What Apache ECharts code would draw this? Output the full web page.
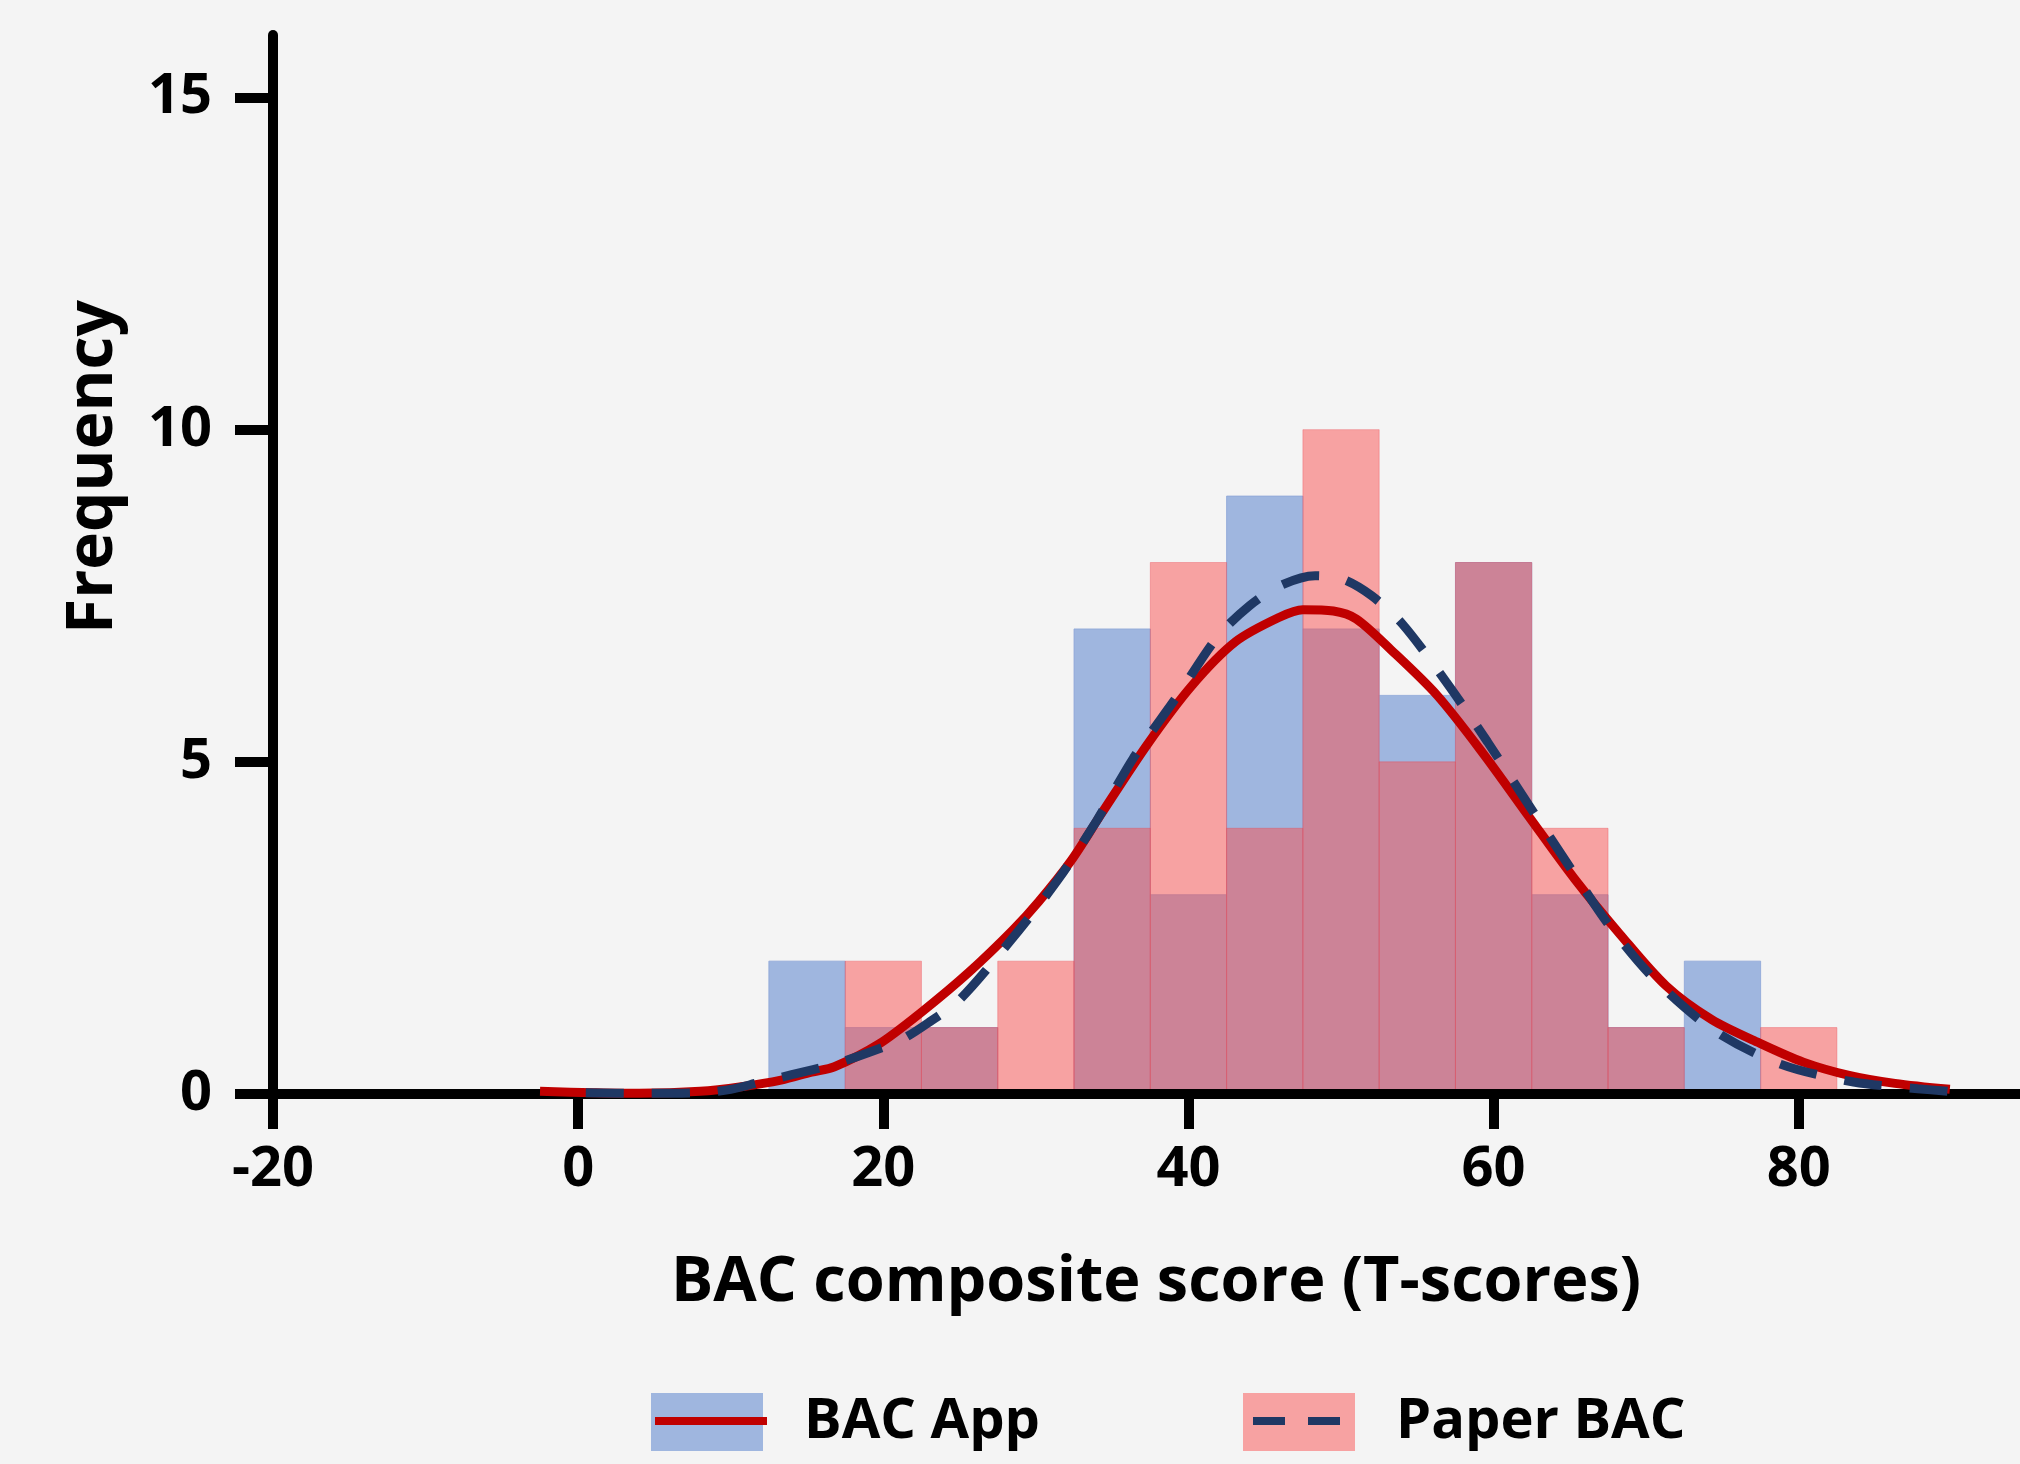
<!DOCTYPE html>
<html>
<head>
<meta charset="utf-8">
<script src="https://cdn.jsdelivr.net/npm/echarts@6/dist/echarts.min.js"></script>
<style>
html, body { margin: 0; padding: 0; background: #f4f4f4; }
#chart { width: 2020px; height: 1464px; }
</style>
</head>
<body>
<div id="chart"></div>
<script>
// ---- Data ----
const binCenters = [15, 20, 25, 30, 35, 40, 45, 50, 55, 60, 65, 70, 75, 80];
const binWidth = 5;
const appCounts   = [2, 1, 1, 0, 7, 3, 9, 7, 6, 8, 3, 1, 2, 0];
const paperCounts = [0, 2, 1, 2, 4, 8, 4, 10, 5, 8, 4, 1, 0, 1];

const appCurveX = [-2.5, 1, 4, 8, 10.7, 13.3, 15.3, 16.8, 19.7, 22.6, 25.6, 28.5, 30.2, 32.3, 34.3, 37.3, 40.2, 43.1, 46.0, 47.5, 49.5, 51.0, 53.3, 56.3, 59.3, 62.3, 65.3, 68.3, 71.3, 74.3, 77.3, 80.3, 83.3, 86.3, 89.9];
const appCurveY = [0.04, 0.02, 0.01, 0.04, 0.11, 0.21, 0.33, 0.41, 0.75, 1.25, 1.83, 2.47, 2.9, 3.51, 4.22, 5.26, 6.14, 6.81, 7.18, 7.29, 7.27, 7.15, 6.68, 6.0, 5.13, 4.18, 3.24, 2.4, 1.63, 1.12, 0.78, 0.48, 0.28, 0.16, 0.07];

const paperCurveX = [0.5, 4, 8, 10, 11.8, 14, 16.8, 19, 21.2, 23, 25.0, 28.2, 31.4, 34.0, 36.4, 39.3, 41.9, 44, 46, 48.3, 50.1, 52, 54.0, 56.9, 59.6, 62.3, 65.3, 67.7, 70.7, 74.5, 78.8, 83.6, 87.8, 89.8];
const paperCurveY = [0.02, 0.01, 0.02, 0.07, 0.17, 0.29, 0.45, 0.62, 0.82, 1.08, 1.42, 2.27, 3.21, 4.12, 5.06, 6.0, 6.88, 7.35, 7.65, 7.8, 7.75, 7.5, 7.08, 6.2, 5.3, 4.35, 3.31, 2.5, 1.69, 0.95, 0.45, 0.18, 0.08, 0.04];

const xTicks = [-20, 0, 20, 40, 60, 80];
const yTicks = [0, 5, 10, 15];

const seriesNames = ['BAC App', 'Paper BAC'];
const xTitle = 'BAC composite score (T-scores)';
const yTitle = 'Frequency';

// ---- Styling ----
const FONT = '"Open Sans", "Noto Sans", sans-serif';
const BLUE = '#9fb6df';
const PINK = 'rgba(249, 79, 79, 0.5)';
const RED = '#c00000';
const NAVY = '#1f3864';

function histData(counts) {
  return binCenters.map((c, i) => [c - binWidth / 2, c + binWidth / 2, counts[i]]);
}
function curveData(xs, ys) {
  return xs.map((x, i) => [x, ys[i]]);
}
function histRender(fill, stroke) {
  return function (params, api) {
    const x0 = api.value(0), x1 = api.value(1), v = api.value(2);
    if (!v) return null;
    const pTop = api.coord([x0, v]);
    const pBot = api.coord([x1, 0]);
    return {
      type: 'rect',
      shape: { x: pTop[0], y: pTop[1], width: pBot[0] - pTop[0], height: pBot[1] - pTop[1] },
      style: { fill: fill, stroke: stroke, lineWidth: 1 }
    };
  };
}

// legend spacing
const legendFontSize = 56;
const legendIconW = 112, legendIconH = 58, legendTextPad = 36;
const mctx = document.createElement('canvas').getContext('2d');
mctx.font = 'bold ' + legendFontSize + 'px ' + FONT;
const firstTextW = mctx.measureText(seriesNames[0]).width;
const legendGap = (1243 - 651) - (legendIconW + 5 + legendTextPad + firstTextW);

const legendCommon = {
  orient: 'horizontal',
  left: 651,
  top: 1393,
  itemWidth: legendIconW,
  itemHeight: legendIconH,
  itemGap: legendGap,
  selectedMode: false,
  padding: 0
};

const chart = echarts.init(document.getElementById('chart'), null, { renderer: 'canvas' });
chart.setOption({
  backgroundColor: '#f4f4f4',
  animation: false,
  textStyle: { fontFamily: FONT },
  grid: { left: 273, right: 0, top: 35, bottom: 370, containLabel: false },
  xAxis: {
    type: 'value', min: -20, max: 94.5, z: 4,
    splitLine: { show: false },
    axisLine: { onZero: false, lineStyle: { color: '#000', width: 10 } },
    axisTick: { customValues: xTicks, length: 35, lineStyle: { color: '#000', width: 10 } },
    axisLabel: { customValues: xTicks, color: '#000', fontSize: 56, fontWeight: 'bold', fontFamily: FONT, margin: 48 }
  },
  yAxis: {
    type: 'value', min: 0, max: 15.94, z: 4,
    splitLine: { show: false },
    axisLine: { show: true, onZero: false, lineStyle: { color: '#000', width: 10 } },
    axisTick: { show: true, customValues: yTicks, length: 38, lineStyle: { color: '#000', width: 10 } },
    axisLabel: { customValues: yTicks, color: '#000', fontSize: 56, fontWeight: 'bold', fontFamily: FONT, margin: 61 }
  },
  legend: [
    Object.assign({}, legendCommon, {
      data: seriesNames.map(n => ({ name: n, icon: 'rect' })),
      textStyle: { color: '#000', fontSize: legendFontSize, fontWeight: 'bold', fontFamily: FONT, padding: [0, 0, 0, legendTextPad] }
    }),
    Object.assign({}, legendCommon, {
      data: [
        { name: seriesNames[0] + ' fit', lineStyle: { width: 8 } },
        { name: seriesNames[1] + ' fit', lineStyle: { width: 8, type: [32, 23], dashOffset: -2 } }
      ],
      formatter: function (name) { return name.replace(' fit', ''); },
      itemStyle: { color: 'rgba(0,0,0,0)', borderColor: 'rgba(0,0,0,0)', borderWidth: 0 },
      textStyle: { color: 'rgba(0,0,0,0)', fontSize: legendFontSize, fontWeight: 'bold', fontFamily: FONT, padding: [0, 0, 0, legendTextPad] }
    })
  ],
  graphic: [
    {
      type: 'text', x: 94, y: 467, rotation: Math.PI / 2,
      style: { text: yTitle, fill: '#000', font: 'bold 64px ' + FONT, align: 'center', verticalAlign: 'middle' }
    },
    {
      type: 'text', x: 1156, y: 1283,
      style: { text: xTitle, fill: '#000', font: 'bold 63px ' + FONT, align: 'center', verticalAlign: 'middle' }
    }
  ],
  series: [
    {
      name: seriesNames[0], type: 'custom', renderItem: histRender(BLUE, 'rgba(140,165,215,0.8)'),
      itemStyle: { color: BLUE },
      encode: { x: [0, 1], y: 2 }, data: histData(appCounts), z: 1, silent: true
    },
    {
      name: seriesNames[1], type: 'custom', renderItem: histRender(PINK, 'rgba(235,70,80,0.35)'),
      itemStyle: { color: PINK },
      encode: { x: [0, 1], y: 2 }, data: histData(paperCounts), z: 2, silent: true
    },
    {
      name: seriesNames[0] + ' fit', type: 'line', smooth: 0.3, symbol: 'none', showSymbol: false,
      lineStyle: { color: RED, width: 9 }, itemStyle: { color: RED },
      data: curveData(appCurveX, appCurveY), z: 6, silent: true
    },
    {
      name: seriesNames[1] + ' fit', type: 'line', smooth: 0.3, symbol: 'none', showSymbol: false,
      lineStyle: { color: NAVY, width: 9, type: [38, 28] }, itemStyle: { color: NAVY },
      data: curveData(paperCurveX, paperCurveY), z: 7, silent: true
    }
  ]
});
</script>
</body>
</html>
